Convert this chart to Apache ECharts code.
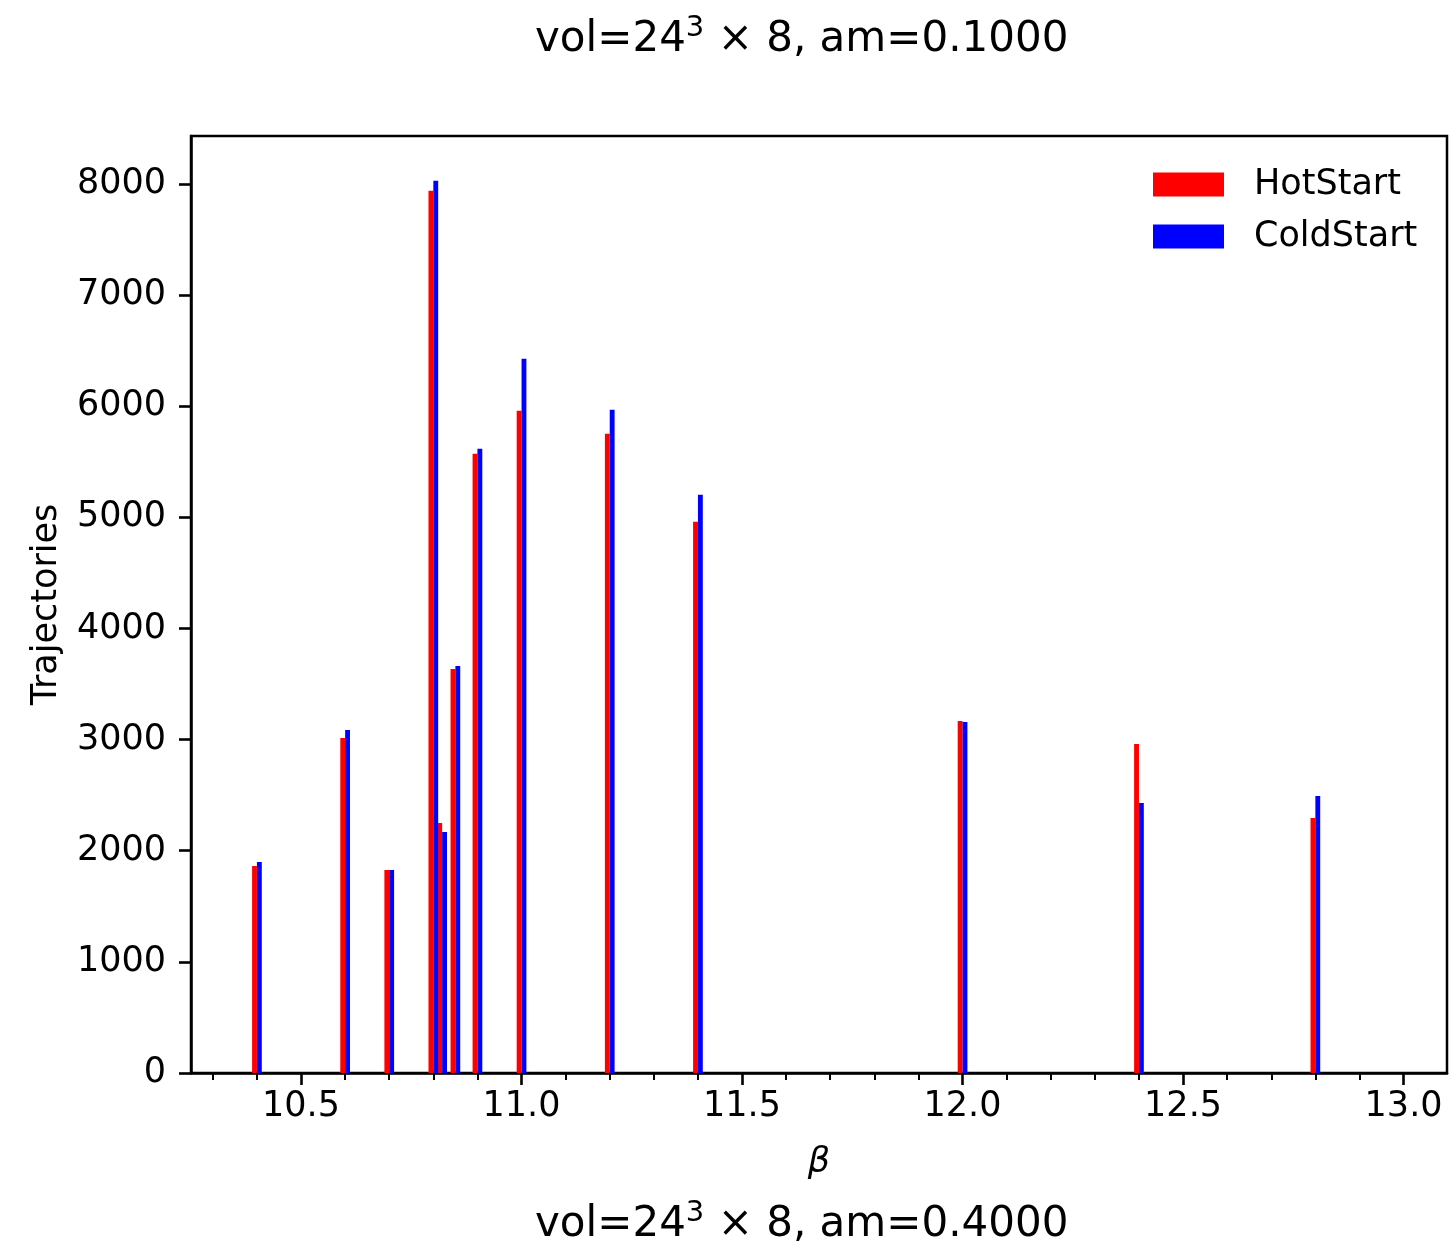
<!DOCTYPE html>
<html>
<head>
<meta charset="utf-8">
<script src="https://cdn.jsdelivr.net/npm/echarts@6/dist/echarts.min.js"></script>
<style>html,body{margin:0;padding:0;background:#fff}#c{width:1450px;height:1247px}</style>
</head>
<body>
<div id="c"></div>
<script>
// ---- data ----
const betas      = [10.4, 10.6, 10.7, 10.8, 10.82, 10.85, 10.9, 11.0, 11.2, 11.4, 12.0, 12.4, 12.8];
const hotStart   = [1863, 3015, 1827, 7939, 2250, 3636, 5572, 5959, 5752, 4960, 3168, 2961, 2295];
const coldStart  = [1899, 3087, 1827, 8029, 2169, 3663, 5617, 6427, 5968, 5203, 3159, 2430, 2493];
const xMajorTicks = [10.5, 11.0, 11.5, 12.0, 12.5, 13.0];
const xMinorTicks = [10.3, 10.4, 10.6, 10.7, 10.8, 10.9, 11.1, 11.2, 11.3, 11.4, 11.6, 11.7, 11.8, 11.9,
                     12.1, 12.2, 12.3, 12.4, 12.6, 12.7, 12.8, 12.9];
const yTicks = [0, 1000, 2000, 3000, 4000, 5000, 6000, 7000, 8000];
const seriesNames = ['HotStart', 'ColdStart'];
const topTitle = 'am=0.1000';
const bottomTitle = 'am=0.4000';

// ---- chart ----
const FONT = 'DejaVu Sans';
const FS = 35;
const barW = 0.011;
function makeRender(side) {
  return function (params, api) {
    const x = api.value(0), y = api.value(1);
    const x0 = side < 0 ? x - barW : x;
    const p0 = api.coord([x0, y]);
    const p1 = api.coord([x0 + barW, 0]);
    return { type: 'rect',
      shape: { x: p0[0], y: p0[1], width: p1[0] - p0[0], height: p1[1] - p0[1] },
      style: { fill: api.visual('color') } };
  };
}
const xMin = 10.2505, xMax = 13.0985, yMax = 8431;
const chart = echarts.init(document.getElementById('c'), null, { renderer: 'canvas' });
const titleRich = { sup: { fontSize: 29, fontFamily: FONT, color: '#000', padding: [0, 0, 24, 0] } };
chart.setOption({
  animation: false,
  backgroundColor: '#fff',
  textStyle: { fontFamily: FONT, color: '#000' },
  title: [
    { text: 'vol=24{sup|3} × 8, ' + topTitle, left: 535, top: 14, padding: 0,
      textStyle: { fontFamily: FONT, fontSize: 42, fontWeight: 'normal', color: '#000', rich: titleRich } },
    { text: 'vol=24{sup|3} × 8, ' + bottomTitle, left: 535, top: 1199, padding: 0,
      textStyle: { fontFamily: FONT, fontSize: 42, fontWeight: 'normal', color: '#000', rich: titleRich } }
  ],
  legend: {
    orient: 'vertical', left: 1153, top: 167, padding: 0,
    itemWidth: 71, itemHeight: 24, itemGap: 17,
    data: seriesNames.map(n => ({ name: n, icon: 'rect' })),
    textStyle: { fontFamily: FONT, fontSize: FS, color: '#000', padding: [0, 0, 0, 25] }
  },
  grid: { left: 191, top: 136, right: 3, bottom: 174, show: true, borderColor: '#000', borderWidth: 2.5, containLabel: false },
  xAxis: [
    { type: 'value', min: xMin, max: xMax, position: 'bottom',
      name: 'β', nameLocation: 'middle', nameGap: 72,
      nameTextStyle: { fontFamily: FONT, fontSize: FS, fontStyle: 'italic', color: '#000' },
      axisLine: { show: true, lineStyle: { color: '#000', width: 2.5 } },
      axisTick: { show: true, length: 12, lineStyle: { color: '#000', width: 2.6 }, customValues: xMajorTicks },
      axisLabel: { show: true, margin: 16, fontFamily: FONT, fontSize: FS, color: '#000',
        customValues: xMajorTicks, formatter: v => Number(v).toFixed(1) },
      splitLine: { show: false } },
    { type: 'value', min: xMin, max: xMax, position: 'bottom', gridIndex: 0,
      axisLine: { show: false },
      axisTick: { show: true, length: 7, lineStyle: { color: '#000', width: 2 }, customValues: xMinorTicks },
      axisLabel: { show: false },
      splitLine: { show: false } }
  ],
  yAxis: {
    type: 'value', min: 0, max: yMax,
    name: 'Trajectories', nameLocation: 'middle', nameRotate: 90, nameGap: 127,
    nameTextStyle: { fontFamily: FONT, fontSize: FS, color: '#000' },
    axisLine: { show: true, lineStyle: { color: '#000', width: 2.5 } },
    axisTick: { show: true, length: 12, lineStyle: { color: '#000', width: 2.6 }, customValues: yTicks },
    axisLabel: { show: true, margin: 25, fontFamily: FONT, fontSize: FS, color: '#000',
      customValues: yTicks, formatter: v => String(v) },
    splitLine: { show: false }
  },
  series: [
    { name: seriesNames[0], type: 'custom', xAxisIndex: 0, itemStyle: { color: '#ff0000' },
      renderItem: makeRender(-1), data: betas.map((b, i) => [b, hotStart[i]]) },
    { name: seriesNames[1], type: 'custom', xAxisIndex: 0, itemStyle: { color: '#0000ff' },
      renderItem: makeRender(1), data: betas.map((b, i) => [b, coldStart[i]]) }
  ]
});
</script>
</body>
</html>
